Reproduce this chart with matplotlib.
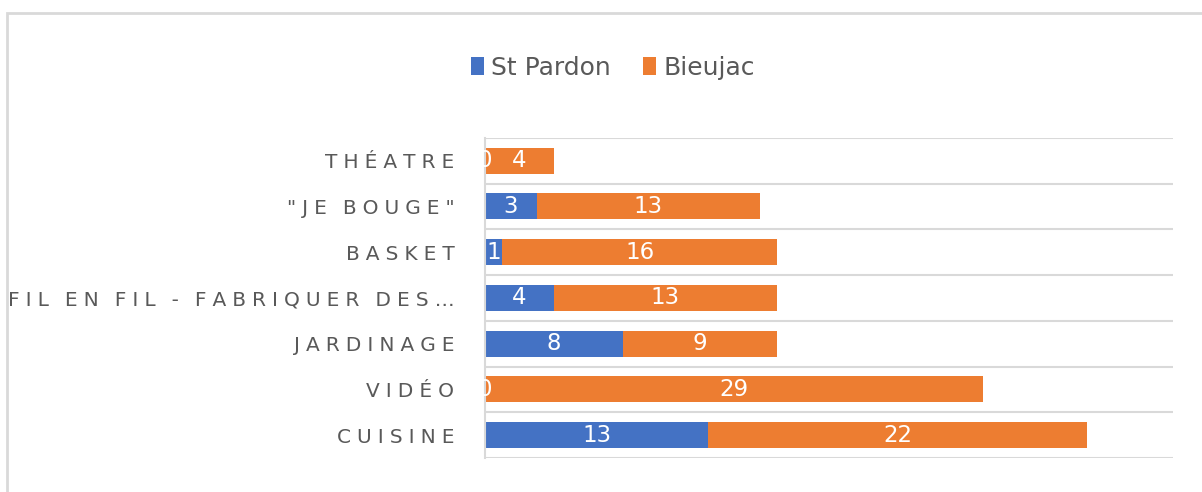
import matplotlib.pyplot as plt
from matplotlib.patches import Rectangle

categories = ['THÉATRE', '"JE BOUGE"', 'BASKET', 'FIL EN FIL - FABRIQUER DES…',
              'JARDINAGE', 'VIDÉO', 'CUISINE']
st_pardon = [0, 3, 1, 4, 8, 0, 13]
bieujac = [4, 13, 16, 13, 9, 29, 22]

BLUE = '#4472C4'
ORANGE = '#ED7D31'
GREY = '#595959'


def spaced(s):
    # imitate the wide letter tracking of the labels
    return '\u2009\u200a'.join(s.replace(' ', '\u2009'))


fig = plt.figure(figsize=(12.02, 4.92), dpi=100)
ax = fig.add_axes([0.4035, 0.069, 0.572, 0.651])

# reverse so the first category is on top
cats = categories[::-1]
sp = st_pardon[::-1]
bj = bieujac[::-1]
ypos = range(len(cats))

b1 = ax.barh(ypos, sp, height=0.57, color=BLUE, label='St Pardon')
b2 = ax.barh(ypos, bj, left=sp, height=0.57, color=ORANGE, label='Bieujac')

for bars in (b1, b2):
    texts = ax.bar_label(bars, label_type='center', color='white', fontsize=16.5)
    for t in texts:
        t.set_clip_on(True)

ax.set_xlim(0, 40)
ax.set_ylim(-0.5, len(cats) - 0.5)
ax.set_xticks([])
ax.set_yticks(list(ypos))
ax.set_yticklabels([spaced(c) for c in cats], color=GREY, fontsize=14.5)
ax.tick_params(axis='y', length=0, pad=22)

# horizontal gridlines between categories
for y in [i - 0.5 for i in range(len(cats) + 1)]:
    ax.axhline(y, color='#D9D9D9', lw=1.5, zorder=0)

for side in ['top', 'right', 'bottom']:
    ax.spines[side].set_visible(False)
ax.spines['left'].set_color('#D9D9D9')
ax.spines['left'].set_linewidth(1.5)

fig.legend(loc='center', bbox_to_anchor=(0.51, 0.862), ncol=2, frameon=False,
           fontsize=18, labelcolor=GREY, handlelength=0.5, handleheight=0.75,
           handletextpad=0.3, columnspacing=1.3)

# chart area border (cut off at right and bottom)
fig.patches.append(Rectangle((7 / 1202, -0.1), 1.2, 1.1 - 13 / 492,
                             transform=fig.transFigure, fill=False,
                             edgecolor='#D9D9D9', lw=2))

fig.savefig('out.png', dpi=100)
